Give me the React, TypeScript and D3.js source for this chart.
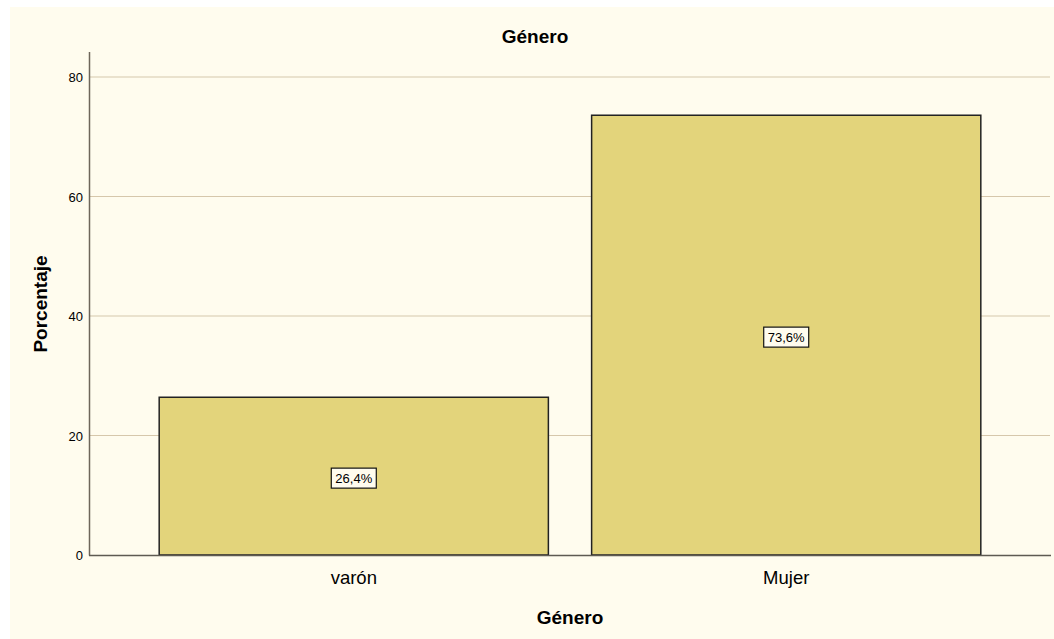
import React from "react";
import * as d3 from "d3";

const categories = ["varón", "Mujer"];
const values = [26.4, 73.6];
const valueLabels = ["26,4%", "73,6%"];
const yTicks = [0, 20, 40, 60, 80];
const title = "Género";
const xTitle = "Género";
const yTitle = "Porcentaje";

const W = 1054;
const H = 639;
const font = "'Liberation Sans', Arial, sans-serif";

export default function App() {
  const x = d3
    .scaleBand<string>()
    .domain(categories)
    .range([90, 1050])
    .paddingInner(0.1)
    .paddingOuter(0.16);
  const y = d3.scaleLinear().domain([0, 80]).range([555, 77]);
  const yTop = y(84.2);

  return (
    <svg
      width={W}
      height={H}
      style={{ position: "absolute", left: 0, top: 0 }}
      fontFamily={font}
    >
      <rect x={0} y={0} width={W} height={H} fill="#ffffff" />
      <rect x={10} y={7} width={W - 10} height={H - 7} fill="#fffcee" />
      <text x={535} y={43} textAnchor="middle" fontSize={19} fontWeight="bold" fill="#000">
        {title}
      </text>
      {yTicks.map((t) => (
        <g key={t}>
          {t > 0 && (
            <line x1={90} x2={1050} y1={y(t)} y2={y(t)} stroke="#d6c7ab" strokeWidth={1.2} />
          )}
          <text x={83} y={y(t) + 5} textAnchor="end" fontSize={13} fill="#000">
            {t}
          </text>
        </g>
      ))}
      {categories.map((c, i) => {
        const x0 = x(c)!;
        const bw = x.bandwidth();
        const yv = y(values[i]);
        const mid = (yv + y(0)) / 2 + 2;
        return (
          <g key={c}>
            <rect
              x={x0}
              y={yv}
              width={bw}
              height={y(0) - yv}
              fill="#e3d47b"
              stroke="#222"
              strokeWidth={1.5}
            />
            <rect
              x={x0 + bw / 2 - 22.5}
              y={mid - 10}
              width={45}
              height={20}
              fill="#fffcee"
              stroke="#111"
              strokeWidth={1.2}
            />
            <text x={x0 + bw / 2} y={mid + 4.5} textAnchor="middle" fontSize={13} fill="#000">
              {valueLabels[i]}
            </text>
            <text x={x0 + bw / 2} y={584} textAnchor="middle" fontSize={18.5} fill="#000">
              {c}
            </text>
          </g>
        );
      })}
      <line x1={89.5} x2={89.5} y1={yTop} y2={555.5} stroke="#6e665a" strokeWidth={1.5} />
      <line x1={89} x2={1051} y1={555.5} y2={555.5} stroke="#5e5a52" strokeWidth={1.5} />
      <text x={570} y={624} textAnchor="middle" fontSize={19} fontWeight="bold" fill="#000">
        {xTitle}
      </text>
      <text
        transform={`translate(47, 304) rotate(-90)`}
        textAnchor="middle"
        fontSize={19}
        fontWeight="bold"
        fill="#000"
      >
        {yTitle}
      </text>
    </svg>
  );
}
